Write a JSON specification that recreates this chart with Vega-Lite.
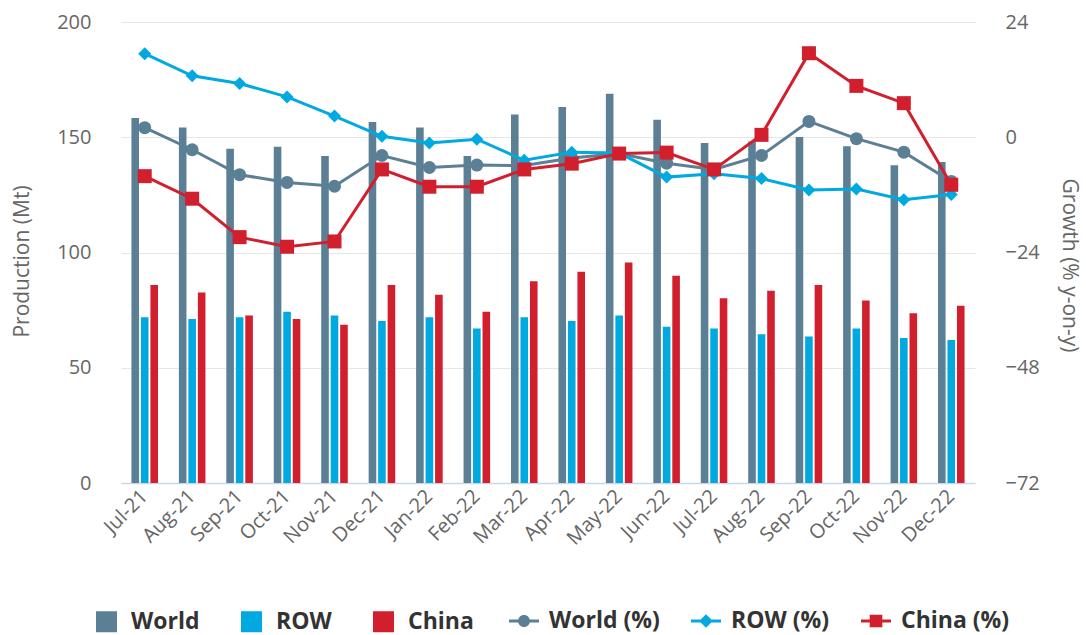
{
  "$schema": "https://vega.github.io/schema/vega-lite/v6.json",
  "width": 854,
  "height": 461,
  "autosize": {"type": "none"},
  "padding": {"left": 121, "top": 22, "right": 111, "bottom": 152},
  "background": "white",
  "config": {
    "view": {"stroke": null},
    "font": "Open Sans",
    "axis": {"labelFont": "Open Sans", "titleFont": "Open Sans"},
    "legend": {"labelFont": "Open Sans"}
  },
  "datasets": {
    "bars": [
      {"month": "Jul-21", "series": "World", "value": 158.4},
      {"month": "Aug-21", "series": "World", "value": 154.2},
      {"month": "Sep-21", "series": "World", "value": 145.0},
      {"month": "Oct-21", "series": "World", "value": 145.9},
      {"month": "Nov-21", "series": "World", "value": 141.9},
      {"month": "Dec-21", "series": "World", "value": 156.6},
      {"month": "Jan-22", "series": "World", "value": 154.2},
      {"month": "Feb-22", "series": "World", "value": 141.9},
      {"month": "Mar-22", "series": "World", "value": 159.9},
      {"month": "Apr-22", "series": "World", "value": 163.1},
      {"month": "May-22", "series": "World", "value": 168.9},
      {"month": "Jun-22", "series": "World", "value": 157.6},
      {"month": "Jul-22", "series": "World", "value": 147.5},
      {"month": "Aug-22", "series": "World", "value": 148.2},
      {"month": "Sep-22", "series": "World", "value": 150.1},
      {"month": "Oct-22", "series": "World", "value": 146.1},
      {"month": "Nov-22", "series": "World", "value": 137.8},
      {"month": "Dec-22", "series": "World", "value": 139.3},
      {"month": "Jul-21", "series": "ROW", "value": 71.9},
      {"month": "Aug-21", "series": "ROW", "value": 71.1},
      {"month": "Sep-21", "series": "ROW", "value": 71.9},
      {"month": "Oct-21", "series": "ROW", "value": 74.3},
      {"month": "Nov-21", "series": "ROW", "value": 72.7},
      {"month": "Dec-21", "series": "ROW", "value": 70.3},
      {"month": "Jan-22", "series": "ROW", "value": 71.9},
      {"month": "Feb-22", "series": "ROW", "value": 67.0},
      {"month": "Mar-22", "series": "ROW", "value": 71.9},
      {"month": "Apr-22", "series": "ROW", "value": 70.3},
      {"month": "May-22", "series": "ROW", "value": 72.7},
      {"month": "Jun-22", "series": "ROW", "value": 67.8},
      {"month": "Jul-22", "series": "ROW", "value": 67.0},
      {"month": "Aug-22", "series": "ROW", "value": 64.5},
      {"month": "Sep-22", "series": "ROW", "value": 63.6},
      {"month": "Oct-22", "series": "ROW", "value": 67.0},
      {"month": "Nov-22", "series": "ROW", "value": 62.9},
      {"month": "Dec-22", "series": "ROW", "value": 62.0},
      {"month": "Jul-21", "series": "China", "value": 85.9},
      {"month": "Aug-21", "series": "China", "value": 82.6},
      {"month": "Sep-21", "series": "China", "value": 72.7},
      {"month": "Oct-21", "series": "China", "value": 71.1},
      {"month": "Nov-21", "series": "China", "value": 68.7},
      {"month": "Dec-21", "series": "China", "value": 85.9},
      {"month": "Jan-22", "series": "China", "value": 81.7},
      {"month": "Feb-22", "series": "China", "value": 74.3},
      {"month": "Mar-22", "series": "China", "value": 87.5},
      {"month": "Apr-22", "series": "China", "value": 91.7},
      {"month": "May-22", "series": "China", "value": 95.7},
      {"month": "Jun-22", "series": "China", "value": 89.9},
      {"month": "Jul-22", "series": "China", "value": 80.1},
      {"month": "Aug-22", "series": "China", "value": 83.4},
      {"month": "Sep-22", "series": "China", "value": 85.9},
      {"month": "Oct-22", "series": "China", "value": 79.2},
      {"month": "Nov-22", "series": "China", "value": 73.6},
      {"month": "Dec-22", "series": "China", "value": 76.9}
    ],
    "lines": [
      {"month": "Jul-21", "series": "World (%)", "growth": 2.0},
      {"month": "Aug-21", "series": "World (%)", "growth": -2.6},
      {"month": "Sep-21", "series": "World (%)", "growth": -7.8},
      {"month": "Oct-21", "series": "World (%)", "growth": -9.4},
      {"month": "Nov-21", "series": "World (%)", "growth": -10.2},
      {"month": "Dec-21", "series": "World (%)", "growth": -3.8},
      {"month": "Jan-22", "series": "World (%)", "growth": -6.3},
      {"month": "Feb-22", "series": "World (%)", "growth": -5.8},
      {"month": "Mar-22", "series": "World (%)", "growth": -5.9},
      {"month": "Apr-22", "series": "World (%)", "growth": -4.3},
      {"month": "May-22", "series": "World (%)", "growth": -3.4},
      {"month": "Jun-22", "series": "World (%)", "growth": -5.4},
      {"month": "Jul-22", "series": "World (%)", "growth": -6.7},
      {"month": "Aug-22", "series": "World (%)", "growth": -3.8},
      {"month": "Sep-22", "series": "World (%)", "growth": 3.3},
      {"month": "Oct-22", "series": "World (%)", "growth": -0.3},
      {"month": "Nov-22", "series": "World (%)", "growth": -3.1},
      {"month": "Dec-22", "series": "World (%)", "growth": -9.2},
      {"month": "Jul-21", "series": "ROW (%)", "growth": 17.4},
      {"month": "Aug-21", "series": "ROW (%)", "growth": 12.8},
      {"month": "Sep-21", "series": "ROW (%)", "growth": 11.2},
      {"month": "Oct-21", "series": "ROW (%)", "growth": 8.4},
      {"month": "Nov-21", "series": "ROW (%)", "growth": 4.4},
      {"month": "Dec-21", "series": "ROW (%)", "growth": 0.2},
      {"month": "Jan-22", "series": "ROW (%)", "growth": -1.2},
      {"month": "Feb-22", "series": "ROW (%)", "growth": -0.4},
      {"month": "Mar-22", "series": "ROW (%)", "growth": -4.8},
      {"month": "Apr-22", "series": "ROW (%)", "growth": -3.1},
      {"month": "May-22", "series": "ROW (%)", "growth": -3.3},
      {"month": "Jun-22", "series": "ROW (%)", "growth": -8.3},
      {"month": "Jul-22", "series": "ROW (%)", "growth": -7.6},
      {"month": "Aug-22", "series": "ROW (%)", "growth": -8.6},
      {"month": "Sep-22", "series": "ROW (%)", "growth": -11.0},
      {"month": "Oct-22", "series": "ROW (%)", "growth": -10.8},
      {"month": "Nov-22", "series": "ROW (%)", "growth": -13.0},
      {"month": "Dec-22", "series": "ROW (%)", "growth": -11.9},
      {"month": "Jul-21", "series": "China (%)", "growth": -8.1},
      {"month": "Aug-21", "series": "China (%)", "growth": -12.8},
      {"month": "Sep-21", "series": "China (%)", "growth": -20.8},
      {"month": "Oct-21", "series": "China (%)", "growth": -22.8},
      {"month": "Nov-21", "series": "China (%)", "growth": -21.7},
      {"month": "Dec-21", "series": "China (%)", "growth": -6.7},
      {"month": "Jan-22", "series": "China (%)", "growth": -10.3},
      {"month": "Feb-22", "series": "China (%)", "growth": -10.3},
      {"month": "Mar-22", "series": "China (%)", "growth": -6.7},
      {"month": "Apr-22", "series": "China (%)", "growth": -5.5},
      {"month": "May-22", "series": "China (%)", "growth": -3.4},
      {"month": "Jun-22", "series": "China (%)", "growth": -3.2},
      {"month": "Jul-22", "series": "China (%)", "growth": -6.7},
      {"month": "Aug-22", "series": "China (%)", "growth": 0.5},
      {"month": "Sep-22", "series": "China (%)", "growth": 17.5},
      {"month": "Oct-22", "series": "China (%)", "growth": 10.7},
      {"month": "Nov-22", "series": "China (%)", "growth": 7.1},
      {"month": "Dec-22", "series": "China (%)", "growth": -9.9}
    ]
  },
  "layer": [
    {
      "data": {"name": "bars"},
      "mark": {"type": "bar", "strokeWidth": 0},
      "encoding": {
        "x": {
          "field": "month", "type": "ordinal",
          "scale": {"domain": ["Jul-21","Aug-21","Sep-21","Oct-21","Nov-21","Dec-21","Jan-22","Feb-22","Mar-22","Apr-22","May-22","Jun-22","Jul-22","Aug-22","Sep-22","Oct-22","Nov-22","Dec-22"], "paddingInner": 0.44, "paddingOuter": 0.22},
          "axis": {"title": null, "labelAngle": -45, "labelAlign": "right", "labelBaseline": "middle", "labelPadding": 10, "labelFontSize": 20, "labelColor": "#666666", "ticks": false, "tickSize": 0, "domainColor": "#ccd6eb", "domainWidth": 1.5, "grid": false}
        },
        "xOffset": {"field": "series", "type": "nominal", "scale": {"domain": ["World", "ROW", "China"], "paddingInner": 0.2, "paddingOuter": 0}},
        "y": {
          "field": "value", "type": "quantitative",
          "scale": {"domain": [0, 200], "nice": false},
          "axis": {"title": "Production (Mt)", "orient": "left", "values": [0, 50, 100, 150, 200], "grid": true, "gridColor": "#e6e6e6", "gridWidth": 1, "domain": false, "ticks": false, "tickSize": 0, "labelPadding": 30, "labelFontSize": 20, "labelColor": "#666666", "titleFontSize": 21, "titleFontWeight": "normal", "titleColor": "#666666", "titlePadding": 24, "titleY": 239}
        },
        "color": {
          "field": "series", "type": "nominal",
          "scale": {"domain": ["World", "ROW", "China"], "range": ["#5b7f95", "#00a9e0", "#d11f2e"]},
          "legend": {"title": null, "orient": "none", "legendX": -26, "legendY": 588, "direction": "horizontal", "symbolType": "square", "symbolSize": 441, "symbolStrokeWidth": 0, "labelFontSize": 23, "labelFontWeight": "bold", "labelColor": "#333333", "labelOffset": 13, "columnPadding": 40, "padding": 0}
        }
      }
    },
    {
      "data": {"name": "lines"},
      "encoding": {
        "x": {
          "field": "month", "type": "ordinal",
          "scale": {"domain": ["Jul-21","Aug-21","Sep-21","Oct-21","Nov-21","Dec-21","Jan-22","Feb-22","Mar-22","Apr-22","May-22","Jun-22","Jul-22","Aug-22","Sep-22","Oct-22","Nov-22","Dec-22"], "paddingInner": 0.44, "paddingOuter": 0.22},
          "axis": {"title": null, "labelAngle": -45, "labelAlign": "right", "labelBaseline": "middle", "labelPadding": 10, "labelFontSize": 20, "labelColor": "#666666", "ticks": false, "tickSize": 0, "domainColor": "#ccd6eb", "domainWidth": 1.5, "grid": false}
        },
        "y": {
          "field": "growth", "type": "quantitative",
          "scale": {"domain": [-72, 24], "nice": false},
          "axis": {"title": "Growth (% y-on-y)", "orient": "right", "values": [-72, -48, -24, 0, 24], "grid": false, "domain": false, "ticks": false, "tickSize": 0, "labelPadding": 30, "labelFontSize": 20, "labelColor": "#666666", "titleFontSize": 21, "titleFontWeight": "normal", "titleColor": "#666666", "titlePadding": 19, "titleY": 243}
        }
      },
      "layer": [
        {
          "transform": [{"filter": "datum.series === 'World (%)'"}],
          "mark": {"type": "line", "color": "#5b7f95", "strokeWidth": 3}
        },
        {
          "transform": [{"filter": "datum.series === 'World (%)'"}],
          "mark": {"type": "point", "filled": true, "shape": "circle", "size": 169, "opacity": 1},
          "encoding": {
            "color": {"field": "series", "type": "nominal", "scale": {"domain": ["World (%)", "ROW (%)", "China (%)"], "range": ["#5b7f95", "#00a9e0", "#d11f2e"]},
              "legend": {"title": null, "orient": "none", "legendX": 388, "legendY": 584, "direction": "horizontal", "symbolSize": 900, "symbolStrokeWidth": 0, "symbolOpacity": 1, "labelFontSize": 23, "labelFontWeight": "bold", "labelColor": "#333333", "labelOffset": 10, "columnPadding": 31, "padding": 0,
                "encode": {"symbols": {"update": {"shape": {"signal": "datum.value === 'World (%)' ? 'M-1,-0.1H1V0.1H-1ZM-0.4,0A0.4,0.4,0,1,1,0.4,0A0.4,0.4,0,1,1,-0.4,0Z' : datum.value === 'ROW (%)' ? 'M-1,-0.1H1V0.1H-1ZM0,-0.45L0.45,0L0,0.45L-0.45,0Z' : 'M-1,-0.1H1V0.1H-1ZM-0.42,-0.42H0.42V0.42H-0.42Z'"}, "size": {"value": 900}, "opacity": {"value": 1}}}}}}
          }
        },
        {
          "transform": [{"filter": "datum.series === 'ROW (%)'"}],
          "mark": {"type": "line", "color": "#00a9e0", "strokeWidth": 3}
        },
        {
          "transform": [{"filter": "datum.series === 'ROW (%)'"}],
          "mark": {"type": "point", "filled": true, "shape": "diamond", "size": 169, "opacity": 1},
          "encoding": {
            "color": {"field": "series", "type": "nominal", "scale": {"domain": ["World (%)", "ROW (%)", "China (%)"], "range": ["#5b7f95", "#00a9e0", "#d11f2e"]}}
          }
        },
        {
          "transform": [{"filter": "datum.series === 'China (%)'"}],
          "mark": {"type": "line", "color": "#d11f2e", "strokeWidth": 3}
        },
        {
          "transform": [{"filter": "datum.series === 'China (%)'"}],
          "mark": {"type": "point", "filled": true, "shape": "square", "size": 196, "opacity": 1},
          "encoding": {
            "color": {"field": "series", "type": "nominal", "scale": {"domain": ["World (%)", "ROW (%)", "China (%)"], "range": ["#5b7f95", "#00a9e0", "#d11f2e"]}}
          }
        }
      ]
    }
  ],
  "resolve": {"scale": {"y": "independent", "color": "independent"}, "axis": {"y": "independent"}, "legend": {"color": "independent"}}
}
